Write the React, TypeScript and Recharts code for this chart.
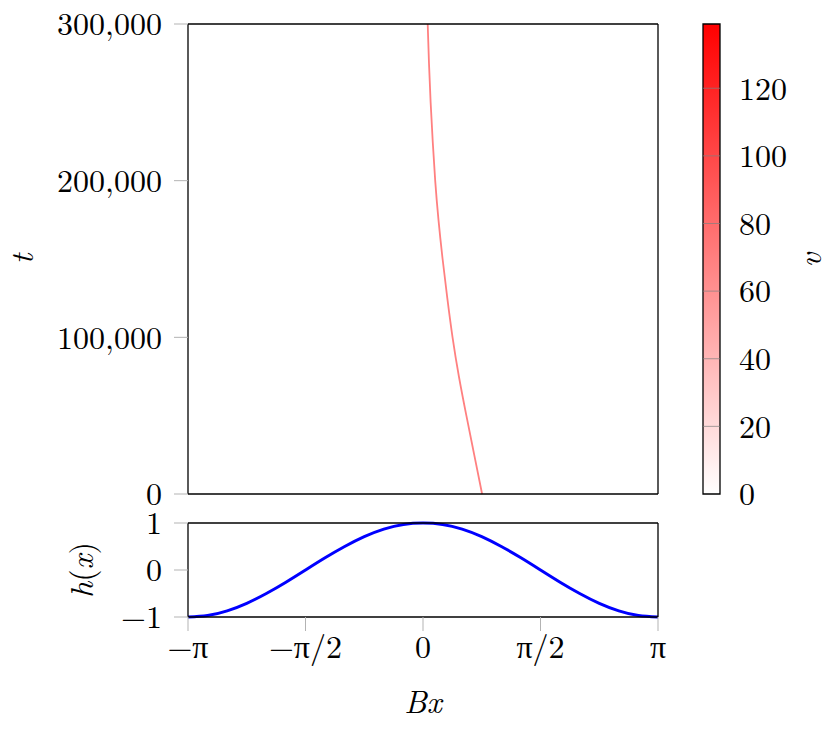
import {
  LineChart,
  Line,
  BarChart,
  Bar,
  XAxis,
  YAxis,
  ReferenceLine,
} from "recharts";

// tick values and labels
const xTicks = [-Math.PI, -Math.PI / 2, 0, Math.PI / 2, Math.PI];
const xTickLabels = ["−π", "−π/2", "0", "π/2", "π"];
const tTicks = [0, 100000, 200000, 300000];
const hTicks = [-1, 0, 1];
const vTicks = [0, 20, 40, 60, 80, 100, 120];
const vMax = 139;

// front position over time
const frontT = [0, 25000, 50000, 75000, 100000, 125000, 150000, 175000, 200000, 225000, 250000, 275000, 300000];
const frontX = [0.79, 0.685, 0.58, 0.48, 0.395, 0.325, 0.262, 0.207, 0.163, 0.13, 0.102, 0.08, 0.063];

// h(x) profile
const hX = [
  -3.1416, -2.8798, -2.618, -2.3562, -2.0944, -1.8326, -1.5708, -1.309, -1.0472, -0.7854, -0.5236, -0.2618, 0,
  0.2618, 0.5236, 0.7854, 1.0472, 1.309, 1.5708, 1.8326, 2.0944, 2.3562, 2.618, 2.8798, 3.1416,
];
const hY = [
  -1, -0.97, -0.87, -0.71, -0.5, -0.26, 0, 0.26, 0.5, 0.71, 0.87, 0.97, 1,
  0.97, 0.87, 0.71, 0.5, 0.26, 0, -0.26, -0.5, -0.71, -0.87, -0.97, -1,
];

const frontData = frontT.map((t, i) => ({ x: frontX[i], t }));
const hData = hX.map((x, i) => ({ x, h: hY[i] }));
const barData = [{ name: "v", v: vMax }];

const font = "'Latin Modern Roman', 'Liberation Serif', serif";
const tickFont = { fill: "#000", fontSize: 32, fontFamily: font };
const tickGray = { stroke: "#b3b3b3", strokeWidth: 1 };
const frame = { stroke: "#000", strokeWidth: 1.3 };

const minus = (v: number) => (v < 0 ? "−" + Math.abs(v) : String(v));

export default function App() {
  return (
    <div style={{ position: "absolute", left: 0, top: 0, width: 830, height: 733, background: "#fff" }}>
      {/* top panel: t vs Bx */}
      <div style={{ position: "absolute", left: 0, top: 0 }}>
        <LineChart width={830} height={520} data={frontData} margin={{ top: 14, right: 162, bottom: 16, left: 128 }}>
          <XAxis xAxisId="b" type="number" dataKey="x" domain={[-Math.PI, Math.PI]} ticks={xTicks} allowDataOverflow
            height={10} tick={false} tickSize={14} tickLine={tickGray} axisLine={frame} />
          <XAxis xAxisId="t" orientation="top" type="number" dataKey="x" domain={[-Math.PI, Math.PI]} ticks={xTicks} allowDataOverflow
            height={10} tick={false} tickSize={14} tickLine={tickGray} axisLine={frame} />
          <YAxis yAxisId="l" type="number" domain={[0, 300000]} ticks={tTicks} width={60}
            tickSize={14} tickMargin={12} tickLine={tickGray} axisLine={frame} tick={tickFont}
            tickFormatter={(v: number) => v.toLocaleString("en-US")} />
          <YAxis yAxisId="r" orientation="right" type="number" domain={[0, 300000]} ticks={tTicks} width={10}
            tick={false} tickSize={14} tickLine={tickGray} axisLine={frame} />
          <Line xAxisId="b" yAxisId="l" dataKey="t" type="natural" stroke="#ff8080" strokeWidth={1.8}
            dot={false} isAnimationActive={false} />
        </LineChart>
      </div>

      {/* bottom panel: h(x) */}
      <div style={{ position: "absolute", left: 0, top: 0 }}>
        <LineChart width={830} height={733} data={hData} margin={{ top: 513, right: 162, bottom: 66, left: 128 }}>
          <XAxis xAxisId="b" type="number" dataKey="x" domain={[-Math.PI, Math.PI]} ticks={xTicks} allowDataOverflow
            height={50} tickSize={14} tickMargin={4} tickLine={tickGray} axisLine={frame} tick={tickFont}
            tickFormatter={(_v: number, i: number) => xTickLabels[i]} />
          <XAxis xAxisId="t" orientation="top" type="number" dataKey="x" domain={[-Math.PI, Math.PI]} ticks={xTicks} allowDataOverflow
            height={10} tick={false} tickSize={14} tickLine={tickGray} axisLine={frame} />
          <YAxis yAxisId="l" type="number" domain={[-1, 1]} ticks={hTicks} width={60}
            tickSize={14} tickMargin={12} tickLine={tickGray} axisLine={frame} tick={tickFont}
            tickFormatter={minus} />
          <YAxis yAxisId="r" orientation="right" type="number" domain={[-1, 1]} ticks={hTicks} width={10}
            tick={false} tickSize={14} tickLine={tickGray} axisLine={frame} />
          <Line xAxisId="b" yAxisId="l" dataKey="h" type="natural" stroke="#0000ff" strokeWidth={3}
            dot={false} isAnimationActive={false} />
        </LineChart>
      </div>

      {/* colour bar */}
      <div style={{ position: "absolute", left: 0, top: 0 }}>
        <BarChart width={830} height={520} data={barData} barCategoryGap={0} margin={{ top: 24, right: 50, bottom: 26, left: 703 }}>
          <defs>
            <linearGradient id="vbar" x1="0" y1="0" x2="0" y2="1">
              <stop offset="0%" stopColor="#ff0000" />
              <stop offset="100%" stopColor="#ffffff" />
            </linearGradient>
          </defs>
          <XAxis dataKey="name" hide />
          <Bar dataKey="v" fill="url(#vbar)" stroke="#000" strokeWidth={1.3} isAnimationActive={false} />
          {vTicks.slice(1).map((v) => (
            <ReferenceLine key={v} y={v} stroke="#808080" strokeOpacity={0.7} />
          ))}
          <YAxis orientation="right" type="number" domain={[0, vMax]} ticks={vTicks} width={60}
            tickLine={false} axisLine={false} tickMargin={13} tick={tickFont} />
        </BarChart>
      </div>

      {/* axis titles */}
      <svg width={830} height={733} style={{ position: "absolute", left: 0, top: 0, pointerEvents: "none" }}
        fontFamily={font} fontSize={32}>
        <text x={23} y={259} transform="rotate(-90 23 259)" textAnchor="middle" dy="0.3em" fontStyle="italic">t</text>
        <text x={811} y={260} transform="rotate(-90 811 260)" textAnchor="middle" dy="0.3em" fontStyle="italic">v</text>
        <text x={82} y={570} transform="rotate(-90 82 570)" textAnchor="middle" dy="0.33em">
          <tspan fontStyle="italic">h</tspan>(<tspan fontStyle="italic">x</tspan>)
        </text>
        <text x={423} y={713} textAnchor="middle" fontStyle="italic">Bx</text>
      </svg>
    </div>
  );
}
